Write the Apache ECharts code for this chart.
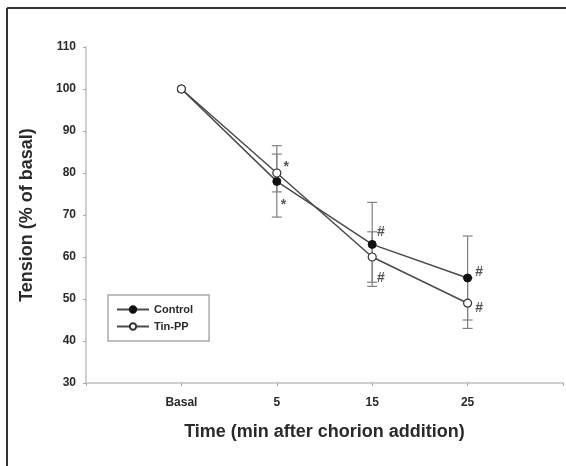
<!DOCTYPE html>
<html><head><meta charset="utf-8">
<script src="https://cdn.jsdelivr.net/npm/echarts@6/dist/echarts.min.js"></script>
<style>html,body{margin:0;padding:0;background:#fff}#c{width:566px;height:466px}</style>
</head><body><div id="c"></div>
<script>
// ---- data ----
var categories = ['Basal', '5', '15', '25'];
var xPositions = [1, 2, 3, 4];
var controlMean = [100, 78, 63, 55];
var controlErr  = [0, 8.5, 10, 10];
var tinMean = [100, 80, 60, 49];
var tinErr  = [0, 4.5, 6, 6];
var yTicks = [30, 40, 50, 60, 70, 80, 90, 100, 110];
// significance marks: [x, y, text]
var marks = [
  [2.10, 81.4, '*'], [2.07, 72.4, '*'],
  [3.09, 66.0, '#'], [3.09, 55.0, '#'],
  [4.12, 56.4, '#'], [4.12, 47.9, '#']
];

function pts(mean){ return xPositions.map(function(x,i){ return [x, mean[i]]; }); }
function errData(mean, err){ return xPositions.map(function(x,i){ return [x, mean[i]-err[i], mean[i]+err[i]]; }); }

function errRender(params, api){
  var x = api.value(0), lo = api.value(1), hi = api.value(2);
  if (hi === lo) return null;
  var pLo = api.coord([x, lo]), pHi = api.coord([x, hi]);
  var w = 5;
  var st = {stroke:'#808080', lineWidth:1.2};
  return {type:'group', children:[
    {type:'line', shape:{x1:pLo[0], y1:pLo[1], x2:pHi[0], y2:pHi[1]}, style:st},
    {type:'line', shape:{x1:pLo[0]-w, y1:pLo[1], x2:pLo[0]+w, y2:pLo[1]}, style:st},
    {type:'line', shape:{x1:pHi[0]-w, y1:pHi[1], x2:pHi[0]+w, y2:pHi[1]}, style:st}
  ]};
}

var chart = echarts.init(document.getElementById('c'));
var txt = '#2a2a2a';
chart.setOption({
  backgroundColor:'#fff',
  animation:false,
  graphic:[
    {type:'line', shape:{x1:7, y1:8, x2:566, y2:8}, style:{stroke:'#333', lineWidth:2}},
    {type:'line', shape:{x1:7, y1:8, x2:7, y2:466}, style:{stroke:'#333', lineWidth:2}}
  ],
  grid:{left:86, right:0, top:47, bottom:83},
  xAxis:{
    type:'value', min:0, max:5, interval:1,
    name:'Time (min after chorion addition)', nameLocation:'middle', nameGap:40,
    nameTextStyle:{fontFamily:'Liberation Sans, Arial', fontWeight:'bold', fontSize:18, color:txt},
    axisLine:{lineStyle:{color:'#cfcfcf', width:2}},
    axisTick:{show:true, length:3, lineStyle:{color:'#aaa'}},
    splitLine:{show:false},
    axisLabel:{margin:14, fontFamily:'Liberation Sans, Arial', fontWeight:'bold', fontSize:12, color:txt,
      formatter:function(v){ var i = xPositions.indexOf(v); return i>=0 ? categories[i] : ''; }}
  },
  yAxis:{
    type:'value', min:30, max:110, interval:10,
    name:'Tension (% of basal)', nameLocation:'middle', nameGap:50,
    nameTextStyle:{fontFamily:'Liberation Sans, Arial', fontWeight:'bold', fontSize:18, color:txt},
    axisLine:{show:true, lineStyle:{color:'#cfcfcf', width:2}},
    axisTick:{show:true, length:3, lineStyle:{color:'#aaa'}},
    splitLine:{show:false},
    axisLabel:{margin:10, fontFamily:'Liberation Sans, Arial', fontWeight:'bold', fontSize:12, color:txt,
      formatter:function(v){ return yTicks.indexOf(v)>=0 ? String(v) : ''; }}
  },
  legend:{
    orient:'vertical', left:108, top:295,
    padding:[9, 16, 9, 8], itemGap:6, itemWidth:32, itemHeight:8,
    borderColor:'#aaa', borderWidth:1.5,
    textStyle:{fontFamily:'Liberation Sans, Arial', fontWeight:'bold', fontSize:11, color:txt},
    data:['Control','Tin-PP']
  },
  series:[
    {type:'custom', name:'errC', renderItem:errRender, data:errData(controlMean, controlErr), z:1, silent:true},
    {type:'custom', name:'errT', renderItem:errRender, data:errData(tinMean, tinErr), z:1, silent:true},
    {type:'line', name:'Control', data:pts(controlMean), symbol:'circle', symbolSize:8,
      lineStyle:{color:'#4a4a4a', width:1.5},
      itemStyle:{color:'#111', borderColor:'#111', borderWidth:1}, z:3},
    {type:'line', name:'Tin-PP', data:pts(tinMean), symbol:'circle', symbolSize:8,
      lineStyle:{color:'#4a4a4a', width:1.5},
      itemStyle:{color:'#fff', borderColor:'#333', borderWidth:1.2}, z:4},
    {type:'scatter', name:'marks', data:marks, symbolSize:0, silent:true,
      label:{show:true, position:'inside', formatter:function(p){ return p.value[2]; },
        fontFamily:'Liberation Sans, Arial', fontWeight:'bold', fontSize:14, color:txt}}
  ]
});
</script></body></html>
